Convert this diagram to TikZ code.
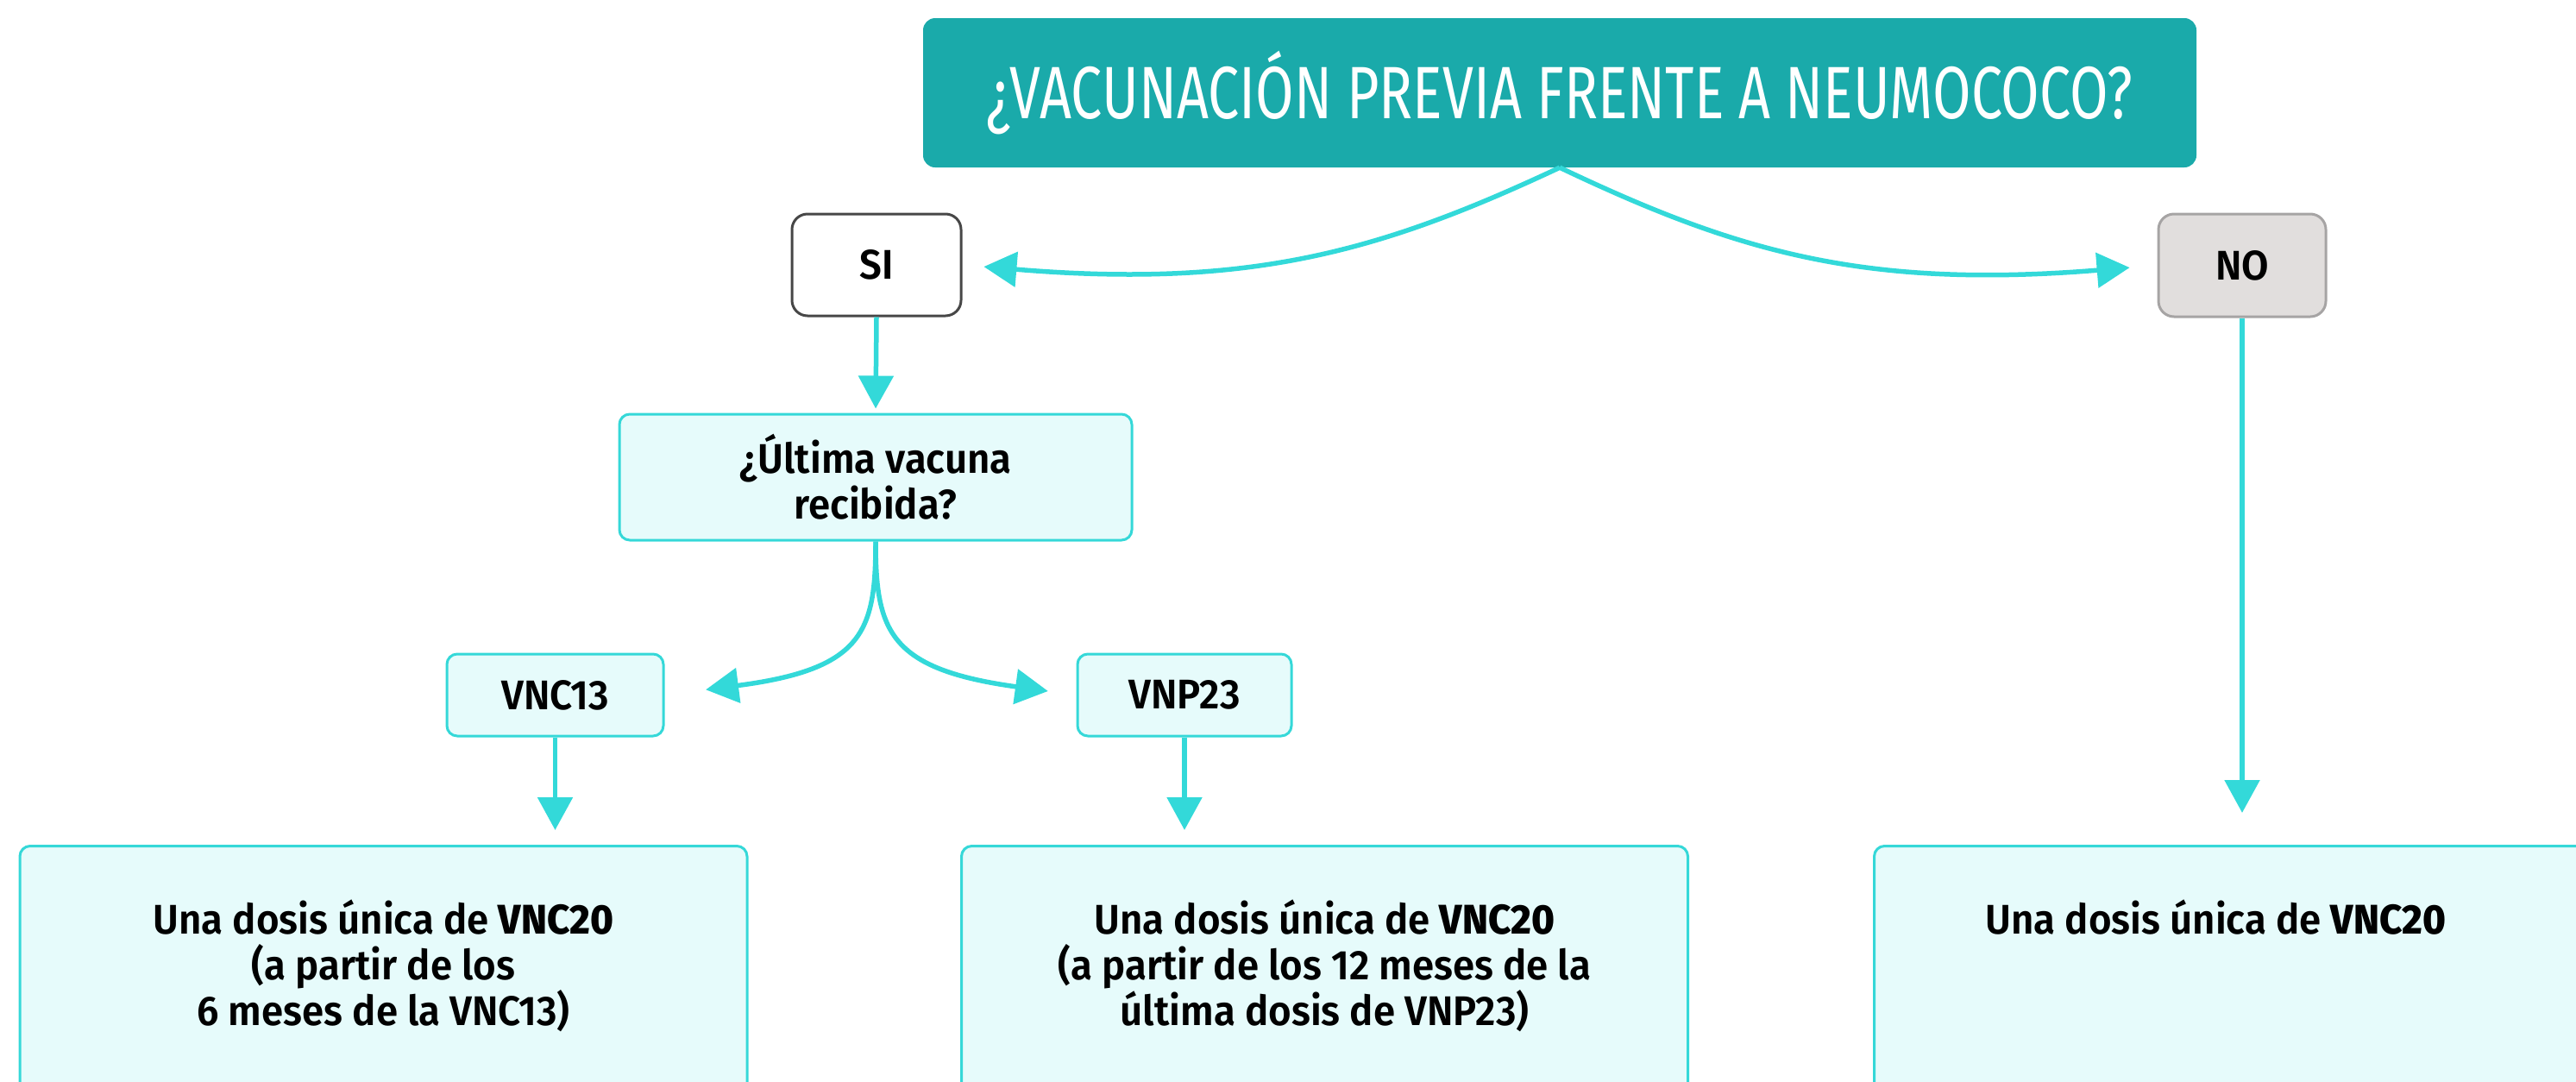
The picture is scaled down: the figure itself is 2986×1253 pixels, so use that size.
\documentclass[tikz,border=0pt]{standalone}
\usepackage{fontspec}
\setmainfont{Fira Sans}[UprightFont={* SemiBold}, BoldFont={* ExtraBold}, FakeStretch=0.95]
\newfontfamily\titlefont{Fira Sans}[FakeStretch=0.75]
\usetikzlibrary{arrows.meta}
\definecolor{teal1}{HTML}{1AAAAA}
\definecolor{arrowc}{HTML}{33D9D9}
\definecolor{lightc}{HTML}{E6FBFB}
\definecolor{borderc}{HTML}{35D8D8}
\definecolor{nofill}{HTML}{E1DEDD}
\definecolor{nodraw}{HTML}{A6A4A4}
\definecolor{sidraw}{HTML}{474747}
\tikzset{
  bodyfont/.style={font=\fontsize{48}{53}\selectfont},
  titlebox/.style={fill=teal1, text=white, rounded corners=14pt, minimum width=1476pt, minimum height=173pt, inner sep=0pt, font=\titlefont\fontsize{86}{90}\selectfont},
  sibox/.style={draw=sidraw, fill=white, line width=3pt, rounded corners=18pt, minimum width=196pt, minimum height=118pt, inner sep=0pt, bodyfont},
  nobox/.style={draw=nodraw, fill=nofill, line width=3pt, rounded corners=18pt, minimum width=194pt, minimum height=119pt, inner sep=0pt, bodyfont},
  cyanbox/.style={draw=borderc, fill=lightc, line width=3pt, rounded corners=12pt, inner sep=0pt, bodyfont, align=center},
  bottombox/.style={cyanbox, anchor=north},
  conn/.style={draw=arrowc, line width=5.5pt, -{Triangle[length=38pt,width=40pt]}},
}
\begin{document}
\begin{tikzpicture}[x=1pt, y=-1pt]
\useasboundingbox (0,0) rectangle (2986,1253);
\clip (0,0) rectangle (2986,1253);

\node[titlebox] (title) at (1808,107.5) {¿VACUNACIÓN PREVIA FRENTE A NEUMOCOCO?};
\node[sibox] (si) at (1016,307) {SI};
\node[nobox] (no) at (2599,307.5) {NO};
\node[cyanbox, minimum width=594pt, minimum height=146pt] (ult) at (1015,553) {¿Última vacuna\\recibida?};
\node[cyanbox, minimum width=251pt, minimum height=95pt] (vnc13) at (643.5,805.5) {VNC13};
\node[cyanbox, minimum width=248pt, minimum height=95pt] (vnp23) at (1373,805.5) {VNP23};

\node[bottombox] (b1) at (444.5,979) {\parbox[t][320pt][t]{843pt}{\centering\rule{0pt}{102pt}Una dosis única de \textbf{VNC20}\\(a partir de los\\6 meses de la VNC13)}};
\node[bottombox] (b2) at (1535.5,979) {\parbox[t][320pt][t]{842pt}{\centering\rule{0pt}{102pt}Una dosis única de \textbf{VNC20}\\(a partir de los 12 meses de la\\última dosis de VNP23)}};
\node[bottombox, anchor=north west] (b3) at (2171,979) {\hbox{\parbox[t][320pt][t]{792pt}{\centering\rule{0pt}{102pt}Una dosis única de \textbf{VNC20}}\hspace{120pt}}};

\draw[conn, shorten >=25pt] (title.south) .. controls +(-205,96) and +(336,28) .. (si.east);
\draw[conn, shorten >=32pt] (title.south) .. controls +(202,96) and +(-342,28) .. (no.west);
\draw[conn, shorten >=5pt] (si.south) -- (ult.north);
\draw[conn, shorten >=48pt] (ult.south) .. controls +(0,104) and +(231,-30) .. (vnc13.east);
\draw[conn, shorten >=33pt] (ult.south) .. controls +(0,104) and +(-217,-30) .. (vnp23.west);
\draw[conn, shorten >=17pt] (vnc13.south) -- (vnc13.south |- b1.north);
\draw[conn, shorten >=17pt] (vnp23.south) -- (vnp23.south |- b2.north);
\draw[conn, shorten >=37pt] (no.south) -- (no.south |- b3.north);
\end{tikzpicture}
\end{document}
